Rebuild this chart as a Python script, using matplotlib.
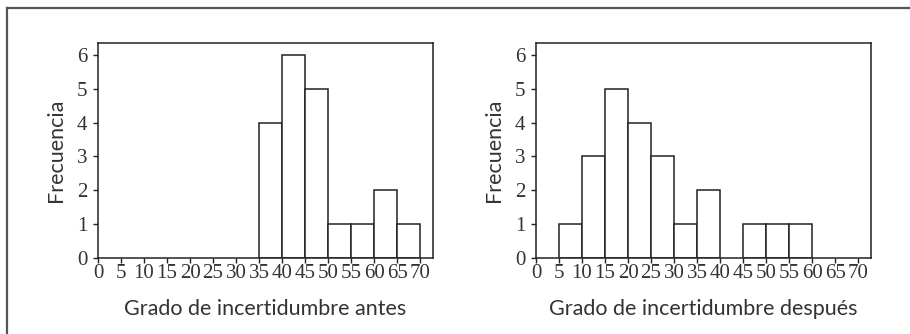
import numpy as np
import matplotlib.pyplot as plt
from matplotlib.lines import Line2D

plt.rcParams['font.family'] = ['Lato', 'DejaVu Sans']

# bin edges (width 5) and counts
bin_edges = [0, 5, 10, 15, 20, 25, 30, 35, 40, 45, 50, 55, 60, 65, 70]
counts_antes = [0, 0, 0, 0, 0, 0, 0, 4, 6, 5, 1, 1, 2, 1]
counts_despues = [0, 1, 3, 5, 4, 3, 1, 2, 0, 1, 1, 1, 0, 0]
xlabels = ["Grado de incertidumbre antes", "Grado de incertidumbre después"]
ylabel = "Frecuencia"
xticks = list(range(0, 71, 5))
yticks = list(range(0, 7))

ink = '#222222'
tick_font = ['Liberation Sans Narrow', 'Liberation Serif', 'DejaVu Sans']

fig = plt.figure(figsize=(9.10, 3.34), dpi=100)

# outer frame (only top and left edges are visible)
fig.add_artist(Line2D([7 / 910, 7 / 910], [0, 1 - 8 / 334], transform=fig.transFigure,
                      color='#555555', lw=1.6))
fig.add_artist(Line2D([7 / 910, 1], [1 - 8 / 334, 1 - 8 / 334], transform=fig.transFigure,
                      color='#555555', lw=1.6))

lefts = [98 / 910, 536 / 910]
for left, counts, xl in zip(lefts, [counts_antes, counts_despues], xlabels):
    ax = fig.add_axes([left, 1 - 258 / 334, 335 / 910, 215 / 334])
    edges = np.array(bin_edges)
    c = np.array(counts)
    keep = c > 0
    ax.bar(edges[:-1][keep], c[keep], width=5, align='edge',
           facecolor='white', edgecolor=ink, linewidth=1.1)
    ax.set_xlim(0, 72.8)
    ax.set_ylim(0, 6.35)
    ax.set_xticks(xticks)
    ax.set_xticklabels([str(v) for v in xticks], family=tick_font)
    ax.set_yticks(yticks)
    ax.set_yticklabels([str(v) for v in yticks], family=tick_font)
    ax.tick_params(direction='out', length=3.5, width=1, color=ink,
                   labelsize=15, labelcolor='#333333')
    ax.tick_params(axis='y', pad=4)
    ax.tick_params(axis='x', pad=1)
    for s in ax.spines.values():
        s.set_color(ink)
        s.set_linewidth(1.1)
    ax.set_xlabel(xl, fontsize=15.5, color='#333333', labelpad=11)
    ax.set_ylabel(ylabel, fontsize=15.5, color='#333333', labelpad=8)

fig.savefig('out.png', dpi=100)
